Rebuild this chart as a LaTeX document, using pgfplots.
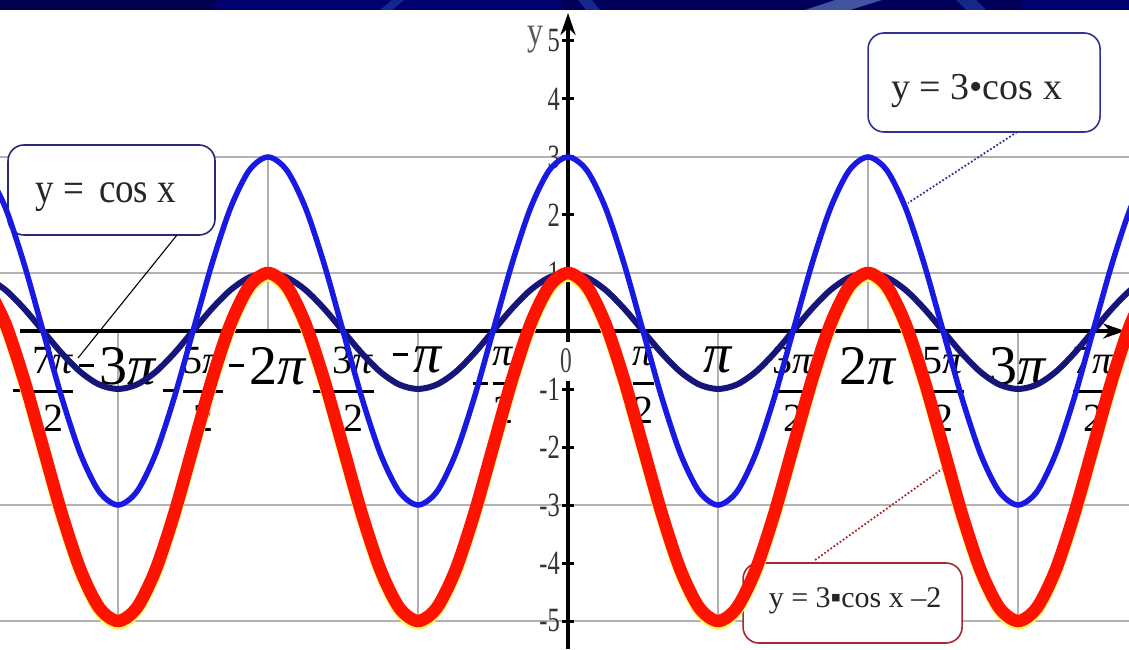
\documentclass[border=0pt]{standalone}
\usepackage{fontspec}
\setmainfont{Liberation Serif}
\usepackage{pgfplots}
\usepackage{pgfplotstable}
\pgfplotsset{compat=1.18}
\usetikzlibrary{arrows.meta}

\definecolor{navyc}{RGB}{22,22,122}
\definecolor{bluec}{RGB}{25,25,228}
\definecolor{redc}{RGB}{255,18,0}
\definecolor{yelc}{RGB}{255,250,90}
\definecolor{gridc}{RGB}{178,178,178}
\definecolor{boxa}{RGB}{40,40,120}
\definecolor{boxb}{RGB}{50,50,150}
\definecolor{boxc}{RGB}{170,40,45}
\definecolor{bandA}{RGB}{0,0,78}
\definecolor{bandB}{RGB}{0,0,110}
\definecolor{bandC}{RGB}{0,0,88}
\definecolor{bandL}{RGB}{20,40,140}

\newcommand\mn{\raisebox{17pt}{\rule{15pt}{3pt}}\hspace{5pt}}
\newcommand\mnf{\raisebox{-19pt}{\rule{15pt}{3pt}}\hspace{5pt}}
\newcommand\fr[2]{\vtop{\halign{\hfil##\hfil\cr\fontsize{40}{40}\selectfont #1\cr\noalign{\kern16pt\hrule height 3pt\kern12pt}\fontsize{40}{40}\selectfont #2\cr}}}
\newcommand\ip{\textit{π}}
\newcommand\sy[1]{\scalebox{0.72}[1]{#1}}

% x in units of pi; c = cos x, t = 3 cos x, r = 3 cos x - 2
\pgfplotstableread{
x c t r
-3.875 0.9239 2.7716 0.7716
-3.75 0.7071 2.1213 0.1213
-3.625 0.3827 1.1481 -0.8519
-3.5 0 0 -2
-3.375 -0.3827 -1.1481 -3.1481
-3.25 -0.7071 -2.1213 -4.1213
-3.125 -0.9239 -2.7716 -4.7716
-3 -1 -3 -5
-2.875 -0.9239 -2.7716 -4.7716
-2.75 -0.7071 -2.1213 -4.1213
-2.625 -0.3827 -1.1481 -3.1481
-2.5 0 0 -2
-2.375 0.3827 1.1481 -0.8519
-2.25 0.7071 2.1213 0.1213
-2.125 0.9239 2.7716 0.7716
-2 1 3 1
-1.875 0.9239 2.7716 0.7716
-1.75 0.7071 2.1213 0.1213
-1.625 0.3827 1.1481 -0.8519
-1.5 0 0 -2
-1.375 -0.3827 -1.1481 -3.1481
-1.25 -0.7071 -2.1213 -4.1213
-1.125 -0.9239 -2.7716 -4.7716
-1 -1 -3 -5
-0.875 -0.9239 -2.7716 -4.7716
-0.75 -0.7071 -2.1213 -4.1213
-0.625 -0.3827 -1.1481 -3.1481
-0.5 0 0 -2
-0.375 0.3827 1.1481 -0.8519
-0.25 0.7071 2.1213 0.1213
-0.125 0.9239 2.7716 0.7716
0 1 3 1
0.125 0.9239 2.7716 0.7716
0.25 0.7071 2.1213 0.1213
0.375 0.3827 1.1481 -0.8519
0.5 0 0 -2
0.625 -0.3827 -1.1481 -3.1481
0.75 -0.7071 -2.1213 -4.1213
0.875 -0.9239 -2.7716 -4.7716
1 -1 -3 -5
1.125 -0.9239 -2.7716 -4.7716
1.25 -0.7071 -2.1213 -4.1213
1.375 -0.3827 -1.1481 -3.1481
1.5 0 0 -2
1.625 0.3827 1.1481 -0.8519
1.75 0.7071 2.1213 0.1213
1.875 0.9239 2.7716 0.7716
2 1 3 1
2.125 0.9239 2.7716 0.7716
2.25 0.7071 2.1213 0.1213
2.375 0.3827 1.1481 -0.8519
2.5 0 0 -2
2.625 -0.3827 -1.1481 -3.1481
2.75 -0.7071 -2.1213 -4.1213
2.875 -0.9239 -2.7716 -4.7716
3 -1 -3 -5
3.125 -0.9239 -2.7716 -4.7716
3.25 -0.7071 -2.1213 -4.1213
3.375 -0.3827 -1.1481 -3.1481
3.5 0 0 -2
3.625 0.3827 1.1481 -0.8519
3.75 0.7071 2.1213 0.1213
3.875 0.9239 2.7716 0.7716
}\cosdata

\begin{document}
\begin{tikzpicture}
\begin{axis}[
  set layers,
  at={(0pt,0pt)}, anchor=south west,
  scale only axis, width=1129pt, height=649pt,
  xmin=-3.78667, xmax=3.74, ymin=-5.48276, ymax=5.70690,
  axis lines=middle, axis line style={draw=none},
  clip=true,
  xtick={-3.5,-3,-2.5,-2,-1.5,-1,-0.5,0.5,1,1.5,2,2.5,3,3.5},
  xticklabels={{\mnf\fr{7\ip}{2}},{\mn 3\ip},{\mnf\fr{5\ip}{2}},{\mn 2\ip},{\mnf\fr{3\ip}{2}},{\mn\ip},{\mnf\fr{\ip}{2}},{\fr{\ip}{2}},{\ip},{\fr{3\ip}{2}},{2\ip},{\fr{5\ip}{2}},{3\ip},{\fr{7\ip}{2}}},
  x tick style={draw=none},
  ytick={-5,-4,-3,-2,-1,1,2,3,4,5},
  yticklabels={\sy{-5},\sy{-4},\sy{-3},\sy{-2},\sy{-1},\sy{1},\sy{2},\sy{3},\sy{4},\sy{5}},
  y tick style={black, line width=3pt},
  major tick length=12pt, tick align=center,
  xticklabel style={anchor=north, inner sep=0pt, yshift=-10pt, font=\fontsize{56}{60}\selectfont, text=black},
  yticklabel style={anchor=east, inner sep=0pt, xshift=-2pt, font=\fontsize{34}{34}\selectfont, text=black!80},
]
% grid / drop lines
\begin{pgfonlayer}{axis grid}
\draw[gridc, line width=1.6pt] (axis cs:-3.8,3) -- (axis cs:3.8,3);
\draw[gridc, line width=1.6pt] (axis cs:-3.8,1) -- (axis cs:3.8,1);
\draw[gridc, line width=1.6pt] (axis cs:-3.8,-3) -- (axis cs:3.8,-3);
\draw[gridc, line width=1.6pt] (axis cs:-3.8,-5) -- (axis cs:3.8,-5);
\draw[gridc, line width=1.4pt] (axis cs:-2,3) -- (axis cs:-2,0);
\draw[gridc, line width=1.4pt] (axis cs:2,3) -- (axis cs:2,0);
\draw[gridc, line width=1.4pt] (axis cs:-3,0) -- (axis cs:-3,-5);
\draw[gridc, line width=1.4pt] (axis cs:-1,0) -- (axis cs:-1,-5);
\draw[gridc, line width=1.4pt] (axis cs:1,0) -- (axis cs:1,-5);
\draw[gridc, line width=1.4pt] (axis cs:3,0) -- (axis cs:3,-5);
\end{pgfonlayer}
% axes
\begin{pgfonlayer}{axis lines}
\draw[black, line width=4.5pt, -{Stealth[length=22pt,width=15pt]}] (axis cs:-3.653,0) -- (axis cs:3.713,0);
\draw[black, line width=4.5pt] (axis cs:0,-5.49) -- (axis cs:0,-0.86);
\draw[black, line width=4.5pt, -{Stealth[length=22pt,width=15pt]}] (axis cs:0,-0.19) -- (axis cs:0,5.483);
\end{pgfonlayer}
% callout boxes
\begin{pgfonlayer}{pre main}
\draw[boxa, line width=1.6pt, fill=white, rounded corners=16pt] (axis cs:-3.7333,3.2069) rectangle (axis cs:-2.3533,1.6552);
\node[anchor=base, inner sep=0pt, text=black!85] at (axis cs:-3.08,2.2241) {\scalebox{0.88}[1]{\fontsize{42}{42}\selectfont y = \hspace{6pt}cos x}};
\draw[boxb, line width=1.6pt, fill=white, rounded corners=16pt] (axis cs:2.0,5.1379) rectangle (axis cs:3.5467,3.4310);
\node[anchor=base, inner sep=0pt, text=black!85] at (axis cs:2.7233,3.9828) {\fontsize{38}{38}\selectfont y = 3•cos x};
\draw[boxc, line width=1.6pt, fill=white, rounded corners=16pt] (axis cs:1.1667,-4.0) rectangle (axis cs:2.6267,-5.3793);
\node[anchor=base, inner sep=0pt, text=black!85] at (axis cs:1.9133,-4.7586) {\fontsize{30}{30}\selectfont y = 3▪cos x –2};
\end{pgfonlayer}
% curves
\addplot[smooth, navyc, line width=6pt] table[x=x, y=c] {\cosdata};
\addplot[smooth, bluec, line width=5.5pt] table[x=x, y=t] {\cosdata};
\addplot[smooth, yelc, line width=12.5pt, yshift=-2.5pt] table[x=x, y=r] {\cosdata};
\addplot[smooth, redc, line width=12.5pt] table[x=x, y=r] {\cosdata};
% pointers
\draw[black, line width=1.1pt] (axis cs:-2.6067,1.6552) -- (axis cs:-3.2667,-0.4655);
\draw[boxb, line width=1.8pt, dotted] (axis cs:2.9933,3.4310) -- (axis cs:2.2667,2.2069);
\draw[boxc, line width=1.8pt, dotted] (axis cs:1.6467,-3.9483) -- (axis cs:2.4933,-2.3793);
% labels on axes
\node[anchor=base, inner sep=0pt, text=black!65] at (axis cs:-0.2167,4.948) {\scalebox{0.8}[1]{\fontsize{40}{40}\selectfont y}};
\node[anchor=center, inner sep=0pt, text=black!75] at (axis cs:-0.0133,-0.517) {\scalebox{0.65}[1]{\fontsize{36}{36}\selectfont 0}};
\end{axis}
% top decorative band
\fill[bandA] (0pt,639pt) rectangle (216pt,649pt);
\fill[bandB] (216pt,639pt) rectangle (562pt,649pt);
\fill[bandC] (562pt,639pt) rectangle (1022pt,649pt);
\fill[bandB] (1022pt,639pt) rectangle (1129pt,649pt);
\fill[bandL] (380pt,639pt) -- (392pt,639pt) -- (404pt,649pt) -- (392pt,649pt) -- cycle;
\fill[bandL] (586pt,639pt) -- (600pt,639pt) -- (592pt,649pt) -- (578pt,649pt) -- cycle;
\fill[bandL!80!white] (805pt,639pt) -- (850pt,639pt) -- (882pt,649pt) -- (835pt,649pt) -- cycle;
\fill[bandL] (966pt,639pt) -- (986pt,639pt) -- (976pt,649pt) -- (956pt,649pt) -- cycle;
\pgfresetboundingbox
\path[use as bounding box] (0pt,0pt) rectangle (1129pt,649pt);
\end{tikzpicture}
\end{document}
